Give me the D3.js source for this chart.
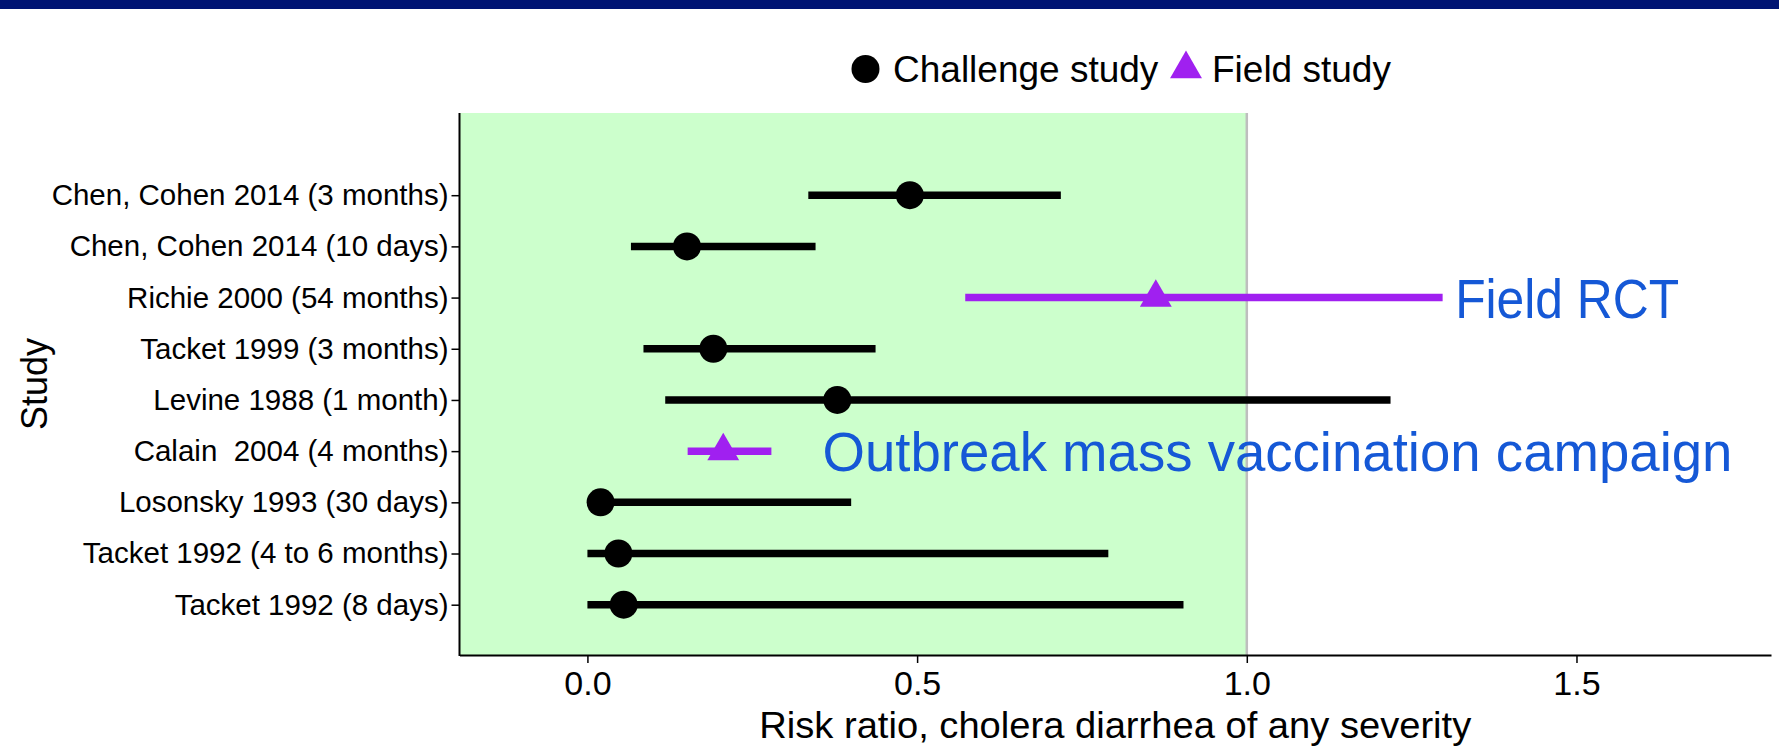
<!DOCTYPE html>
<html>
<head>
<meta charset="utf-8">
<script src="https://cdn.jsdelivr.net/npm/d3@7"></script>
<style>
  body { margin: 0; background: #fff; }
  svg { display: block; font-family: "Liberation Sans", Arial, sans-serif; }
</style>
</head>
<body>
<svg id="chart"></svg>
<script>
// Studies, top to bottom
const studies = [
  'Chen, Cohen 2014 (3 months)',
  'Chen, Cohen 2014 (10 days)',
  'Richie 2000 (54 months)',
  'Tacket 1999 (3 months)',
  'Levine 1988 (1 month)',
  'Calain  2004 (4 months)',
  'Losonsky 1993 (30 days)',
  'Tacket 1992 (4 to 6 months)',
  'Tacket 1992 (8 days)'
];
const riskRatios = [0.489, 0.151, 0.862, 0.191, 0.379, 0.206, 0.020, 0.047, 0.055];
const lowerCI = [0.335, 0.066, 0.573, 0.085, 0.118, 0.152, 0.0, 0.0, 0.0];
const upperCI = [0.718, 0.346, 1.297, 0.437, 1.218, 0.279, 0.400, 0.790, 0.904];
const studyTypes = ['Challenge study', 'Challenge study', 'Field study', 'Challenge study',
  'Challenge study', 'Field study', 'Challenge study', 'Challenge study', 'Challenge study'];
const typeNames = ['Challenge study', 'Field study'];
const xTicks = [0.0, 0.5, 1.0, 1.5];
const xDomain = [-0.194, 1.795];
const protectiveLimit = 1.0;

const width = 1779;
const height = 749;
const panel = { left: 459.5, right: 1771, top: 113, bottom: 655 };

const typeColor = d3.scaleOrdinal().domain(typeNames).range(['#000000', '#a020f0']);
const typeSymbol = d3.scaleOrdinal().domain(typeNames).range([d3.symbolCircle, d3.symbolTriangle]);
const typeSize = d3.scaleOrdinal().domain(typeNames).range([Math.PI * 14 * 14, 440]);

const rows = studies.map((s, i) => ({
  study: s, rr: riskRatios[i], lo: lowerCI[i], hi: upperCI[i], type: studyTypes[i]
}));

const svg = d3.select('#chart').attr('width', width).attr('height', height);

// Header bar
svg.append('rect').attr('x', 0).attr('y', 0).attr('width', width).attr('height', 9).attr('fill', '#001473');

const x = d3.scaleLinear().domain(xDomain).range([panel.left, panel.right]);
const y = d3.scalePoint().domain(studies).range([195.2, 604.7]);

// Protective region
svg.append('rect')
  .attr('x', panel.left).attr('y', panel.top)
  .attr('width', x(protectiveLimit) - panel.left)
  .attr('height', panel.bottom - panel.top)
  .attr('fill', '#ccffcc');

svg.append('line')
  .attr('x1', x(protectiveLimit)).attr('x2', x(protectiveLimit))
  .attr('y1', panel.top).attr('y2', panel.bottom)
  .attr('stroke', '#bebebe').attr('stroke-width', 2.5);

// Confidence intervals
svg.append('g').selectAll('line')
  .data(rows)
  .join('line')
  .attr('x1', d => x(d.lo)).attr('x2', d => x(d.hi))
  .attr('y1', d => y(d.study)).attr('y2', d => y(d.study))
  .attr('stroke', d => typeColor(d.type))
  .attr('stroke-width', 7.5);

// Point estimates
svg.append('g').selectAll('path')
  .data(rows)
  .join('path')
  .attr('transform', d => `translate(${x(d.rr)},${y(d.study)})`)
  .attr('d', d => d3.symbol().type(typeSymbol(d.type)).size(typeSize(d.type))())
  .attr('fill', d => typeColor(d.type));

// Axes
const xAxis = svg.append('g')
  .attr('transform', `translate(0,${panel.bottom})`)
  .call(d3.axisBottom(x).tickValues(xTicks).tickFormat(d3.format('.1f')).tickSize(8).tickSizeOuter(0).tickPadding(8));
xAxis.select('.domain').attr('stroke-width', 2);
xAxis.selectAll('.tick line').attr('stroke-width', 1.5);
xAxis.selectAll('.tick text').attr('font-size', 34).attr('fill', '#000')
  .attr('font-family', '"Liberation Sans", Arial, sans-serif');

const yAxis = svg.append('g')
  .attr('transform', `translate(${panel.left},0)`)
  .call(d3.axisLeft(y).tickSize(8).tickPadding(3));
yAxis.select('.domain').remove();
yAxis.selectAll('.tick line').attr('stroke-width', 1.5);
yAxis.selectAll('.tick text').attr('font-size', 29.5).attr('fill', '#000')
  .attr('font-family', '"Liberation Sans", Arial, sans-serif')
  .style('white-space', 'pre');

svg.append('line')
  .attr('x1', panel.left).attr('x2', panel.left)
  .attr('y1', panel.top).attr('y2', panel.bottom + 1)
  .attr('stroke', '#000').attr('stroke-width', 2);

// Axis titles
svg.append('text')
  .attr('x', (panel.left + panel.right) / 2).attr('y', 738)
  .attr('text-anchor', 'middle').attr('font-size', 37)
  .attr('textLength', 712).attr('lengthAdjust', 'spacingAndGlyphs')
  .text('Risk ratio, cholera diarrhea of any severity');

svg.append('text')
  .attr('transform', `translate(47,${(panel.top + panel.bottom) / 2}) rotate(-90)`)
  .attr('text-anchor', 'middle').attr('font-size', 36)
  .text('Study');

// Legend
const legendItems = [
  { name: 'Challenge study', cx: 865.5, tx: 893 },
  { name: 'Field study', cx: 1186, tx: 1212 }
];
const legend = svg.append('g');
legend.selectAll('path')
  .data(legendItems)
  .join('path')
  .attr('transform', d => `translate(${d.cx},69)`)
  .attr('d', d => d3.symbol().type(typeSymbol(d.name)).size(typeSize(d.name))())
  .attr('fill', d => typeColor(d.name));
legend.selectAll('text')
  .data(legendItems)
  .join('text')
  .attr('x', d => d.tx).attr('y', 82)
  .attr('font-size', 37)
  .text(d => d.name);

// Annotations
const notes = [
  { text: 'Field RCT', study: studies[2], at: 1.316, length: 224 },
  { text: 'Outbreak mass vaccination campaign', study: studies[5], at: 0.3565, length: 910 }
];
svg.append('g').selectAll('text')
  .data(notes)
  .join('text')
  .attr('x', d => x(d.at))
  .attr('y', d => y(d.study) + 20)
  .attr('font-size', 55)
  .attr('fill', '#1558d6')
  .attr('textLength', d => d.length)
  .attr('lengthAdjust', 'spacingAndGlyphs')
  .text(d => d.text);
</script>
</body>
</html>
